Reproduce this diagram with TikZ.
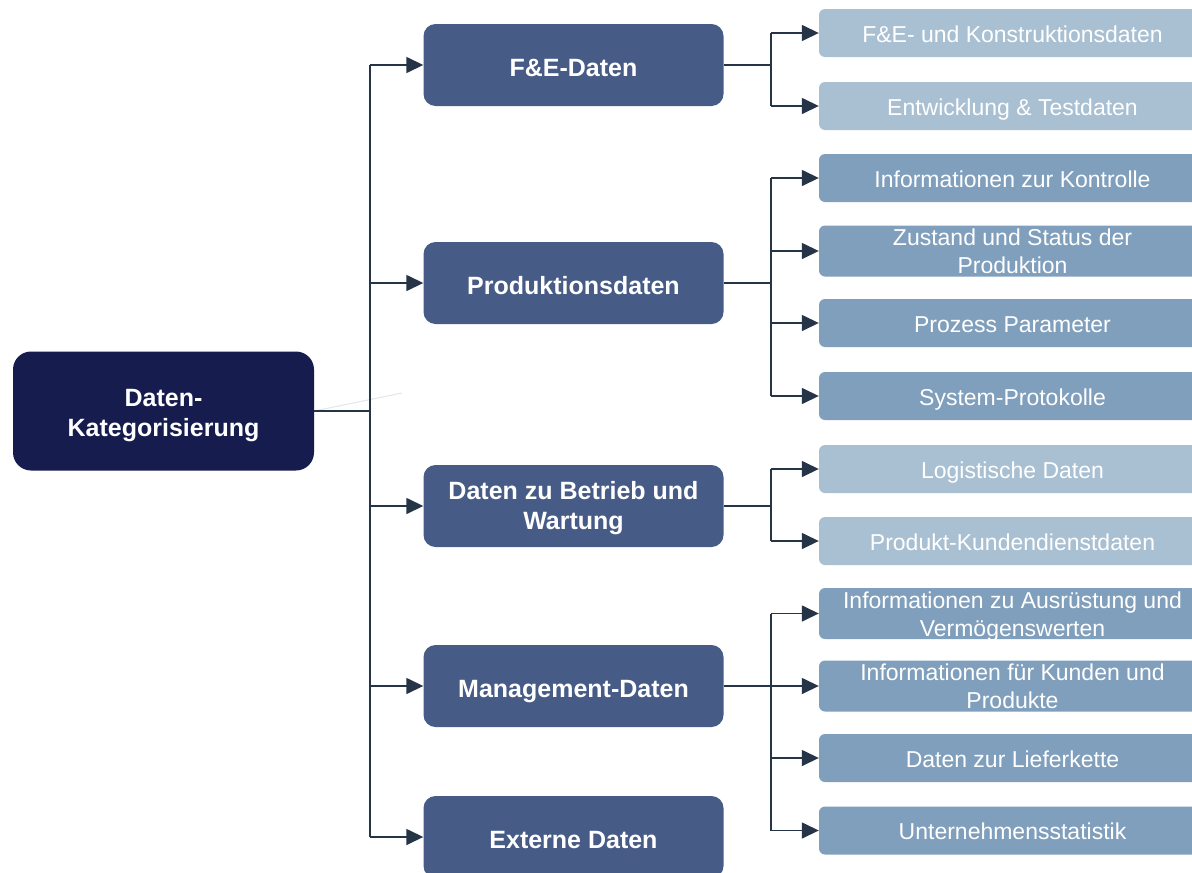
\documentclass[tikz,border=0pt]{standalone}
\usepackage{fontspec}
\setmainfont{Liberation Sans}
\usetikzlibrary{arrows.meta}
\definecolor{rootc}{HTML}{161C4D}
\definecolor{midc}{HTML}{475B87}
\definecolor{lightc}{HTML}{A9C0D3}
\definecolor{medc}{HTML}{7F9FBC}
\definecolor{linec}{HTML}{253447}
\definecolor{faintc}{HTML}{E4E6EA}
\tikzset{
  rootbox/.style={draw=none,fill=rootc,rounded corners=18pt,minimum width=301pt,minimum height=119pt,inner sep=0pt,align=center,text=white,font=\fontsize{25}{30}\selectfont\bfseries,text height=54pt,text depth=4pt},
  midbox/.style={draw=none,fill=midc,rounded corners=12pt,minimum width=300pt,minimum height=82pt,inner sep=0pt,align=center,text=white,font=\fontsize{25}{30}\selectfont\bfseries,text height=25pt,text depth=3pt},
  midtwo/.style={midbox,text height=52pt,text depth=4.6pt},
  leafbox/.style={draw=none,rounded corners=6pt,minimum width=387pt,minimum height=48pt,inner sep=0pt,align=center,text=white,font=\fontsize{23}{28}\selectfont,text height=22pt,text depth=4pt},
  leaftwo/.style={text height=48pt,text depth=3pt},
  lleaf/.style={leafbox,fill=lightc},
  mleaf/.style={leafbox,fill=medc},
  conn/.style={draw=linec,line width=1.5pt},
  arr/.style={conn,-{Triangle[length=17pt,width=16pt]}}
}
\begin{document}
\begin{tikzpicture}[x=1pt,y=-1pt]
\useasboundingbox (0,0) rectangle (1192,873);
\clip (0,0) rectangle (1192,873);
\fill[white] (0,0) rectangle (1192,873);
% root
\node[rootbox] (root) at (163.5,411) {Daten-\\Kategorisierung};
% mid level
\node[midbox] (fe) at (573.5,65) {F\&E-Daten};
\node[midbox] (prod) at (573.5,283) {Produktionsdaten};
\node[midtwo] (betr) at (573.5,506) {Daten zu Betrieb und\\Wartung};
\node[midbox] (mgmt) at (573.5,686) {Management-Daten};
\node[midbox] (ext) at (573.5,837) {Externe Daten};
% leaves
\node[lleaf] (l1) at (1012.5,33) {F\&E- und Konstruktionsdaten};
\node[lleaf] (l2) at (1012.5,106) {Entwicklung \& Testdaten};
\node[mleaf] (l3) at (1012.5,178) {Informationen zur Kontrolle};
\node[mleaf,leaftwo] (l4) at (1012.5,251) {Zustand und Status der\\Produktion};
\node[mleaf] (l5) at (1012.5,323) {Prozess Parameter};
\node[mleaf] (l6) at (1012.5,396) {System-Protokolle};
\node[lleaf] (l7) at (1012.5,469) {Logistische Daten};
\node[lleaf] (l8) at (1012.5,541) {Produkt-Kundendienstdaten};
\node[mleaf,leaftwo] (l9) at (1012.5,613.5) {Informationen zu Ausrüstung und\\Vermögenswerten};
\node[mleaf,leaftwo] (l10) at (1012.5,686) {Informationen für Kunden und\\Produkte};
\node[mleaf] (l11) at (1012.5,758) {Daten zur Lieferkette};
\node[mleaf] (l12) at (1012.5,830.5) {Unternehmensstatistik};
% trunk
\coordinate (t) at (370,411);
\coordinate (fa) at (402,393);
\draw[faintc,line width=1pt] (root.east) -- (fa);
\draw[conn] (root.east) -- (t);
\draw[conn] (t |- fe.west) -- (t |- ext.west);
\foreach \m in {fe,prod,betr,mgmt,ext}{
  \draw[arr] (t |- \m.west) -- (\m.west);
}
% branches
\coordinate (b) at (771,0);
\draw[conn] (fe.east) -- (b |- fe.east);
\draw[conn] (b |- l1.west) -- (b |- l2.west);
\draw[conn] (prod.east) -- (b |- prod.east);
\draw[conn] (b |- l3.west) -- (b |- l6.west);
\draw[conn] (betr.east) -- (b |- betr.east);
\draw[conn] (b |- l7.west) -- (b |- l8.west);
\draw[conn] (mgmt.east) -- (b |- mgmt.east);
\draw[conn] (b |- l9.west) -- (b |- l12.west);
\foreach \l in {l1,l2,l3,l4,l5,l6,l7,l8,l9,l10,l11,l12}{
  \draw[arr] (b |- \l.west) -- (\l.west);
}
\end{tikzpicture}
\end{document}
